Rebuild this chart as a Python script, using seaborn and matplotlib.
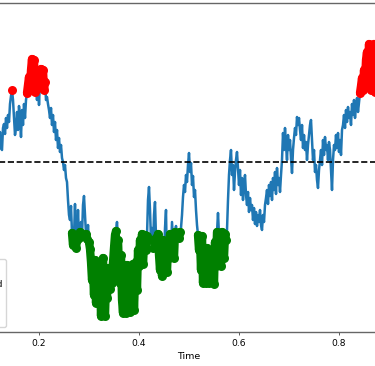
import numpy as np
import pandas as pd
import matplotlib
matplotlib.use("Agg")
import matplotlib.pyplot as plt
import seaborn as sns
from matplotlib.lines import Line2D

# ---- data (deviation from the mean level) ----
t_start, t_end = 0.114, 0.880
values = [
    27, 32, 34, 22,
    30, 14, 12, 34, 38, 28, 44, 34, 47, 40,
    58, 66, 72, 62, 44, 27, 34, 50, 32, 56,
    44, 25, 52, 37, 58, 44, 62, 69, 77, 85,
    72, 92, 103, 78, 102, 70, 80, 62, 88, 57,
    82, 93, 74, 92, 72, 80, 62, 65, 58, 52,
    44, 54, 37, 47, 30, 40, 22, 32, 14, 24,
    10, 17, 4, 0, -8, -3, -16, -20, -38, -53,
    -58, -44, -71, -83, -74, -42, -86, -78, -48, -76,
    -70, -60, -74, -43, -34, -53, -72, -77, -63, -80,
    -87, -100, -118, -108, -133, -98, -141, -123, -106, -138,
    -114, -154, -128, -96, -143, -154, -120, -136, -106, -118,
    -127, -108, -121, -100, -86, -73, -69, -60, -78, -106,
    -121, -93, -138, -151, -113, -128, -151, -103, -142, -123,
    -150, -110, -134, -102, -148, -118, -100, -128, -88, -104,
    -78, -96, -72, -102, -83, -73, -88, -74, -38, -25,
    -48, -78, -66, -86, -53, -40, -76, -84, -72, -93,
    -108, -88, -114, -78, -100, -66, -48, -110, -83, -96,
    -72, -90, -60, -78, -96, -70, -64, -74, -68, -76,
    -70, -66, -53, -35, -23, -30, -13, -20, -3, 9,
    -10, -1, -23, -14, -35, -28, -48, -63, -73, -88,
    -78, -108, -74, -121, -96, -114, -121, -86, -108, -121,
    -103, -90, -118, -98, -122, -80, -104, -70, -51, -73,
    -88, -104, -70, -83, -96, -72, -78, -68, -38, -13,
    2, 12, -13, -3, -28, -10, 2, 10, -6, -23,
    -8, -33, -16, -38, -23, -13, -33, -43, -30, -50,
    -36, -48, -43, -58, -46, -62, -50, -64, -53, -60,
    -48, -63, -68, -53, -60, -43, -36, -28, -42, -23,
    -34, -20, -38, -16, -28, -10, -32, -6, -23, -16,
    -30, -13, 2, 29, 12, 34, 17, 2, 27, 12,
    22, 4, -11, 12, 24, 34, 27, 45, 37, 44,
    32, 22, 37, 14, 27, 12, 20, 2, 17, 27,
    37, 42, 22, 2, 12, -10, -3, -18, -26, -8,
    2, 12, -3, 22, 7, 25, 12, 17, 2, 20,
    12, -8, -28, 2, 17, 12, 27, 14, 29, 10,
    22, 7, 32, 37, 47, 34, 52, 40, 55, 44,
    50, 37, 58, 47, 62, 44, 56, 64, 50, 60,
    69, 76, 84, 72, 92, 80, 102, 110, 87, 118,
    97, 72, 114, 84, 118, 70, 102, 112, 80, 92,
]
mean_level = 0
threshold = 69
xticks = [0.2, 0.4, 0.6, 0.8]
legend_labels = ["Process", "Above upper threshold", "Below threshold", "Mean"]

time = np.linspace(t_start, t_end, len(values))
df = pd.DataFrame({"Time": time, "Value": values})
df["upper"] = df["Value"] >= mean_level + threshold
df["lower"] = df["Value"] <= mean_level - threshold


def runs(mask):
    sub = df[mask].copy()
    sub["run"] = (mask != mask.shift()).cumsum()[mask]
    return sub


upper = runs(df["upper"])
lower = runs(df["lower"])

fig = plt.figure(figsize=(3.75, 3.66), dpi=100)
ax = fig.add_axes([-0.22933, 0.0929, 1.46667, 0.8989])

blue = "#1f77b4"
sns.lineplot(data=df, x="Time", y="Value", ax=ax, color=blue, lw=1.8,
             estimator=None, sort=False, zorder=2)
ax.axhline(mean_level, color="black", ls="--", lw=1.2, zorder=2.5)
for sub, col in [(upper, "red"), (lower, "green")]:
    sns.lineplot(data=sub, x="Time", y="Value", units="run", estimator=None,
                 sort=False, ax=ax, color=col, lw=6.0, zorder=3,
                 solid_capstyle="round", solid_joinstyle="round")
    sns.scatterplot(data=sub, x="Time", y="Value", ax=ax, color=col,
                    s=42, linewidth=0, zorder=3.1)

ax.set_xlim(-0.05, 1.05)
ax.set_ylim(-170, 159)
ax.set_xticks(xticks)
ax.set_xticklabels([f"{v:.1f}" for v in xticks])
ax.set_yticks([])
ax.set_ylabel("")
ax.set_xlabel("Time", fontsize=6.8, labelpad=3)
ax.tick_params(axis="x", labelsize=6.6, length=2.5, width=0.7, pad=2.2,
               color="0.35")
for s in ax.spines.values():
    s.set_color("0.4")
    s.set_linewidth(1.0)

handles = [
    Line2D([], [], color=blue, lw=1.3),
    Line2D([], [], color="red", marker="o", ls="none", markersize=4),
    Line2D([], [], color="green", marker="o", ls="none", markersize=4),
    Line2D([], [], color="black", ls="--", lw=1.2),
]
ax.legend(handles, legend_labels, loc="lower right", fontsize=6.5,
          labelspacing=0.9,
          bbox_to_anchor=(6 / 375, 39 / 366), bbox_transform=fig.transFigure,
          borderaxespad=0, frameon=True)

fig.savefig("out.png", dpi=100)
